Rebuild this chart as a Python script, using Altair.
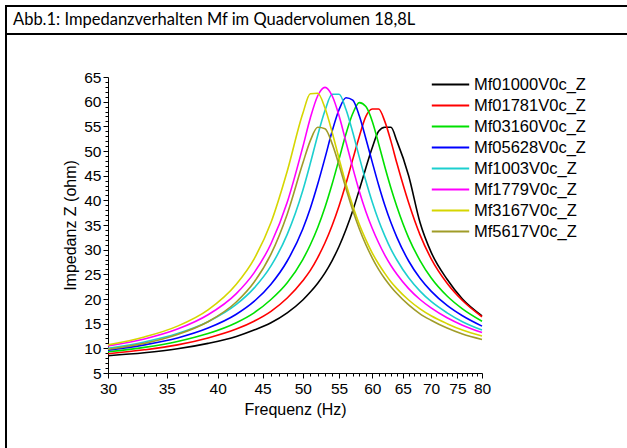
import altair as alt
import pandas as pd

title_text = "Abb.1: Impedanzverhalten Mf im Quadervolumen 18,8L"

freq = [30, 33, 36, 39, 42, 44, 46, 48, 50, 51, 52, 53, 54, 55, 56, 57, 58, 59,
        60, 61, 62, 63, 64, 66, 68, 70, 73, 76, 80]

series = ["Mf01000V0c_Z", "Mf01781V0c_Z", "Mf03160V0c_Z", "Mf05628V0c_Z",
          "Mf1003V0c_Z", "Mf1779V0c_Z", "Mf3167V0c_Z", "Mf5617V0c_Z"]
colors = ["#000000", "#FF0000", "#00E000", "#0000FF",
          "#1CCFCF", "#FF00FF", "#D6D600", "#A09C28"]

z_black = [8.5, 9.1, 9.9, 11.0, 12.4, 13.7, 15.2, 17.2, 19.8, 21.4, 23.2, 25.3, 27.8, 30.7,
           34.1, 37.9, 42.2, 46.6, 50.7, 54.0, 54.8, 54.8, 52.0, 45.0, 35.5, 29.5, 24.0, 20.0, 16.6]
z_red = [8.9, 9.7, 10.7, 12.1, 13.9, 15.5, 17.5, 20.2, 23.7, 25.8, 28.4, 31.4, 34.9, 38.9,
         43.4, 48.3, 53.0, 57.0, 58.5, 58.5, 56.0, 52.0, 47.5, 39.5, 33.0, 28.2, 23.2, 19.7, 16.4]
z_green = [9.3, 10.2, 11.4, 13.0, 15.2, 17.2, 19.9, 23.3, 28.0, 31.0, 34.5, 38.6, 43.3, 48.4,
           53.5, 57.6, 59.8, 59.0, 56.0, 51.5, 46.8, 42.5, 38.7, 32.4, 27.8, 24.3, 20.6, 18.0, 15.5]
z_blue = [9.6, 10.7, 12.1, 14.1, 16.9, 19.5, 23.0, 27.7, 34.2, 38.4, 43.3, 48.6, 54.0, 58.4,
          60.8, 60.3, 57.1, 52.5, 47.7, 43.1, 39.0, 35.5, 32.5, 27.7, 24.2, 21.6, 18.7, 16.6, 14.5]
z_cyan = [10.0, 11.3, 13.0, 15.4, 18.9, 22.2, 26.7, 33.1, 42.0, 47.5, 53.2, 58.2, 61.5, 61.5,
          58.4, 53.8, 48.7, 43.9, 39.6, 35.9, 32.8, 30.1, 27.9, 24.3, 21.6, 19.5, 17.2, 15.4, 13.7]
z_magenta = [10.5, 11.9, 13.9, 16.8, 21.1, 25.3, 31.2, 39.6, 50.8, 56.7, 61.2, 62.9, 61.2, 57.1,
             51.8, 46.6, 41.8, 37.7, 34.3, 31.4, 28.9, 26.8, 25.0, 22.1, 19.9, 18.2, 16.2, 14.7, 13.2]
z_yellow = [10.7, 12.3, 14.5, 17.8, 23.0, 28.1, 35.5, 45.9, 57.6, 61.6, 61.7, 58.7, 53.8, 48.4,
            43.3, 38.9, 35.1, 32.0, 29.3, 27.1, 25.2, 23.5, 22.1, 19.8, 18.0, 16.6, 15.0, 13.7, 12.5]
z_olive = [9.8, 11.0, 12.8, 15.4, 19.4, 23.4, 29.1, 37.2, 47.5, 52.1, 54.8, 54.5, 51.5, 47.1,
           42.4, 38.0, 34.2, 31.0, 28.3, 26.0, 24.1, 22.5, 21.1, 18.8, 17.0, 15.7, 14.1, 12.9, 11.8]

all_values = [z_black, z_red, z_green, z_blue, z_cyan, z_magenta, z_yellow, z_olive]

rows = []
for name, vals in zip(series, all_values):
    for f, v in zip(freq, vals):
        rows.append({"Frequenz": f, "Z": v, "Serie": name})
df = pd.DataFrame(rows)

x_ticks = list(range(30, 81))
y_ticks = list(range(5, 66))

FONT = "Liberation Sans"

lines = alt.Chart(df).mark_line(strokeWidth=1.6, interpolate="monotone").encode(
    x=alt.X("Frequenz:Q",
            scale=alt.Scale(type="log", domain=[30, 80], nice=False),
            axis=alt.Axis(values=x_ticks,
                          labelExpr="datum.value % 5 == 0 ? format(datum.value, 'd') : ''",
                          tickSize={"condition": {"test": "datum.value % 5 == 0", "value": 5}, "value": 3},
                          labelOverlap=False, labelFlush=False, grid=False,
                          title="Frequenz (Hz)", titlePadding=5, labelPadding=3)),
    y=alt.Y("Z:Q",
            scale=alt.Scale(domain=[5, 65], nice=False, zero=False),
            axis=alt.Axis(values=y_ticks,
                          labelExpr="datum.value % 5 == 0 ? format(datum.value, 'd') : ''",
                          tickSize={"condition": {"test": "datum.value % 5 == 0", "value": 5}, "value": 3},
                          labelOverlap=False, labelFlush=False, grid=False,
                          title="Impedanz Z (ohm)", titlePadding=5, labelPadding=2)),
    color=alt.Color("Serie:N", sort=series,
                    scale=alt.Scale(domain=series, range=colors),
                    legend=alt.Legend(title=None, orient="none", legendX=333, legendY=-2,
                                      symbolType="M-2.2,0L2.2,0", symbolSize=289,
                                      symbolStrokeWidth=2, labelFont=FONT, labelFontSize=16.5,
                                      labelColor="black", labelOffset=14, rowPadding=3,
                                      padding=0, labelLimit=300)),
)

one = pd.DataFrame({"k": [0]})
left_line = alt.Chart(one).mark_rule(color="black", strokeWidth=2).encode(
    x=alt.value(-102), y=alt.value(-72), y2=alt.value(380))
top_line = alt.Chart(one).mark_rule(color="black", strokeWidth=2).encode(
    x=alt.value(-103), x2=alt.value(530), y=alt.value(-71))
divider = alt.Chart(one).mark_rule(color="black", strokeWidth=2).encode(
    x=alt.value(-103), x2=alt.value(530), y=alt.value(-43))
title_mark = alt.Chart(one).mark_text(align="left", baseline="middle", font="Lato",
                                       fontSize=16.5, color="black").encode(
    x=alt.value(-95), y=alt.value(-57), text=alt.value(title_text))

chart = alt.layer(lines, left_line, top_line, divider, title_mark).properties(
    width=374, height=296,
    autosize=alt.AutoSizeParams(type="none"),
    padding={"left": 108, "top": 77, "right": 145, "bottom": 75},
).configure_view(stroke=None).configure_axis(
    domainColor="black", tickColor="black", labelColor="black", titleColor="black",
    labelFont=FONT, labelFontSize=15.5, titleFont=FONT, titleFontSize=16,
    titleFontWeight="normal", domainWidth=1, tickWidth=1,
)

chart.save("out.html", embed_options={"renderer": "svg", "actions": False})
